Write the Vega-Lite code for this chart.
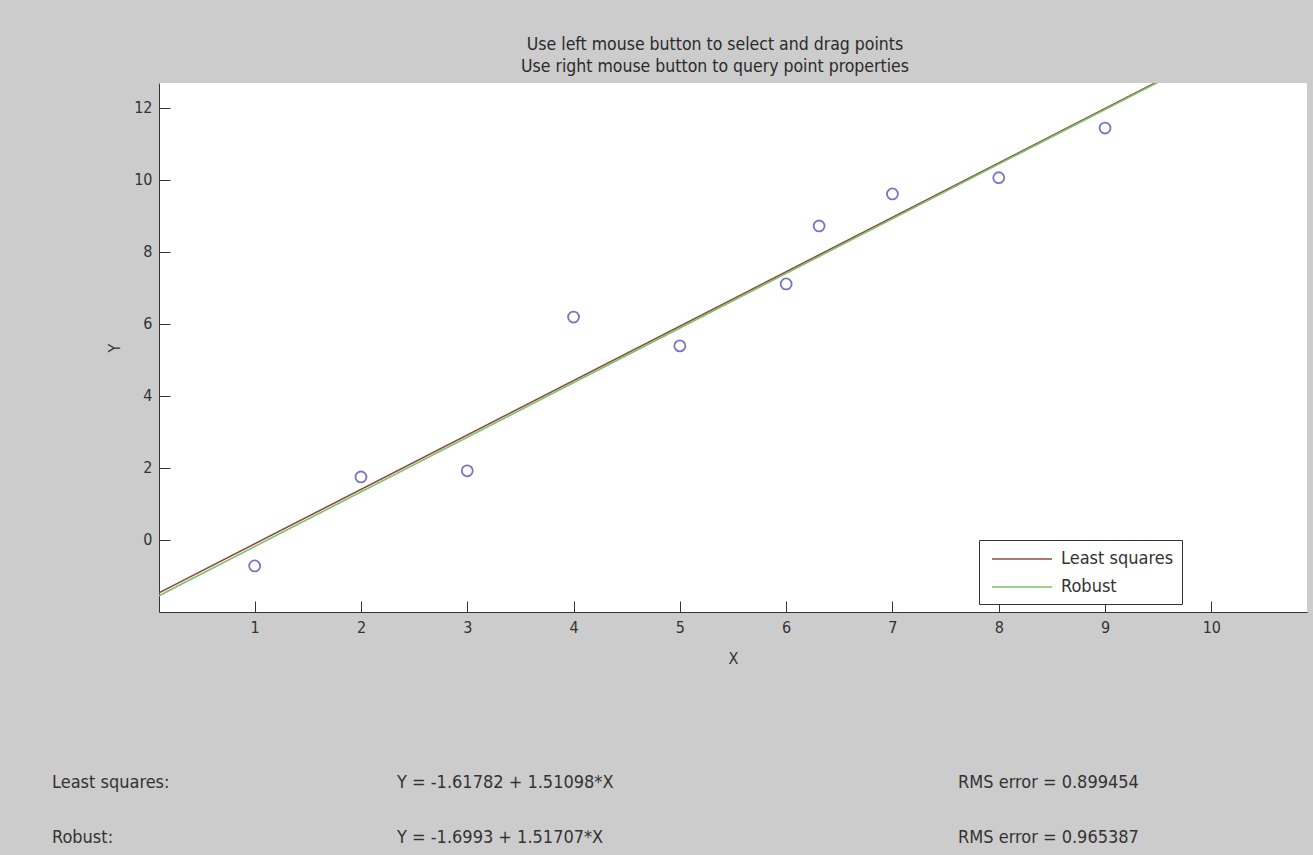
{
  "$schema": "https://vega.github.io/schema/vega-lite/v6.json",
  "width": 1148,
  "height": 529,
  "autosize": {"type": "none"},
  "padding": {"left": 159, "top": 83, "right": 6, "bottom": 243},
  "background": "#cccccc",
  "config": {
    "view": {"fill": "white", "stroke": null},
    "font": "DejaVu Sans Condensed, Liberation Sans Narrow, sans-serif",
    "text": {"font": "DejaVu Sans Condensed, Liberation Sans Narrow, sans-serif"}
  },
  "title": {
    "text": ["Use left mouse button to select and drag points", "Use right mouse button to query point properties"],
    "fontSize": 17.5,
    "fontWeight": "normal",
    "color": "#2a2a2a",
    "anchor": "middle",
    "frame": "group",
    "dx": -18,
    "offset": 8,
    "lineHeight": 22
  },
  "datasets": {
    "points": [
      {"x": 1, "y": -0.72},
      {"x": 2, "y": 1.75},
      {"x": 3, "y": 1.92},
      {"x": 4, "y": 6.19},
      {"x": 5, "y": 5.39},
      {"x": 6, "y": 7.11},
      {"x": 6.31, "y": 8.72},
      {"x": 7, "y": 9.61},
      {"x": 8, "y": 10.06},
      {"x": 9, "y": 11.44}
    ],
    "fits": [
      {"series": "Least squares", "x": 0.1, "y": -1.467},
      {"series": "Least squares", "x": 10.9, "y": 14.852},
      {"series": "Robust", "x": 0.1, "y": -1.548},
      {"series": "Robust", "x": 10.9, "y": 14.837}
    ],
    "notes": [
      {"label": "Least squares:", "tx": -0.907, "ty": -6.754},
      {"label": "Y = -1.61782 + 1.51098*X", "tx": 2.339, "ty": -6.754},
      {"label": "RMS error = 0.899454", "tx": 7.617, "ty": -6.754},
      {"label": "Robust:", "tx": -0.907, "ty": -8.28},
      {"label": "Y = -1.6993 + 1.51707*X", "tx": 2.339, "ty": -8.28},
      {"label": "RMS error = 0.965387", "tx": 7.617, "ty": -8.28}
    ]
  },
  "layer": [
    {
      "data": {"name": "fits"},
      "mark": {"type": "line", "clip": true, "strokeWidth": 1.6},
      "encoding": {
        "x": {
          "field": "x", "type": "quantitative",
          "scale": {"domain": [0.1, 10.9], "nice": false, "zero": false},
          "axis": {
            "values": [1, 2, 3, 4, 5, 6, 7, 8, 9, 10],
            "format": "d",
            "title": "X",
            "grid": false,
            "domainColor": "#333333",
            "tickColor": "#333333",
            "tickSize": -11,
            "labelPadding": 18,
            "labelFontSize": 16,
            "labelColor": "#333333",
            "titleFontSize": 16,
            "titleFontWeight": "normal",
            "titleColor": "#333333",
            "titlePadding": 15,
            "labelFlush": false
          }
        },
        "y": {
          "field": "y", "type": "quantitative",
          "scale": {"domain": [-2, 12.69], "nice": false, "zero": false},
          "axis": {
            "values": [0, 2, 4, 6, 8, 10, 12],
            "format": "d",
            "title": "Y",
            "grid": false,
            "domainColor": "#333333",
            "tickColor": "#333333",
            "tickSize": -11,
            "labelPadding": 18,
            "labelFontSize": 16,
            "labelColor": "#333333",
            "titleFontSize": 16,
            "titleFontWeight": "normal",
            "titleColor": "#333333",
            "titlePadding": 11,
            "labelFlush": false
          }
        },
        "color": {
          "field": "series", "type": "nominal",
          "scale": {"domain": ["Least squares", "Robust"], "range": ["#8b4a3c", "#7cc06a"]},
          "legend": {
            "title": null,
            "orient": "none",
            "legendX": 820,
            "legendY": 457,
            "fillColor": "white",
            "strokeColor": "#333333",
            "padding": 8,
            "symbolType": "M-3,0H3",
            "symbolSize": 400,
            "symbolStrokeWidth": 1.5,
            "symbolOffset": 24,
            "labelOffset": 28,
            "labelFontSize": 18,
            "labelColor": "#333333",
            "rowPadding": 8
          }
        }
      }
    },
    {
      "data": {"name": "points"},
      "mark": {"type": "point", "shape": "circle", "filled": false, "color": "#3c3caa", "size": 120, "strokeWidth": 1.8},
      "encoding": {
        "x": {"field": "x", "type": "quantitative"},
        "y": {"field": "y", "type": "quantitative"}
      }
    },
    {
      "data": {"name": "notes"},
      "mark": {"type": "text", "align": "left", "baseline": "middle", "fontSize": 18, "color": "#333333"},
      "encoding": {
        "x": {"field": "tx", "type": "quantitative"},
        "y": {"field": "ty", "type": "quantitative"},
        "text": {"field": "label", "type": "nominal"}
      }
    }
  ]
}
